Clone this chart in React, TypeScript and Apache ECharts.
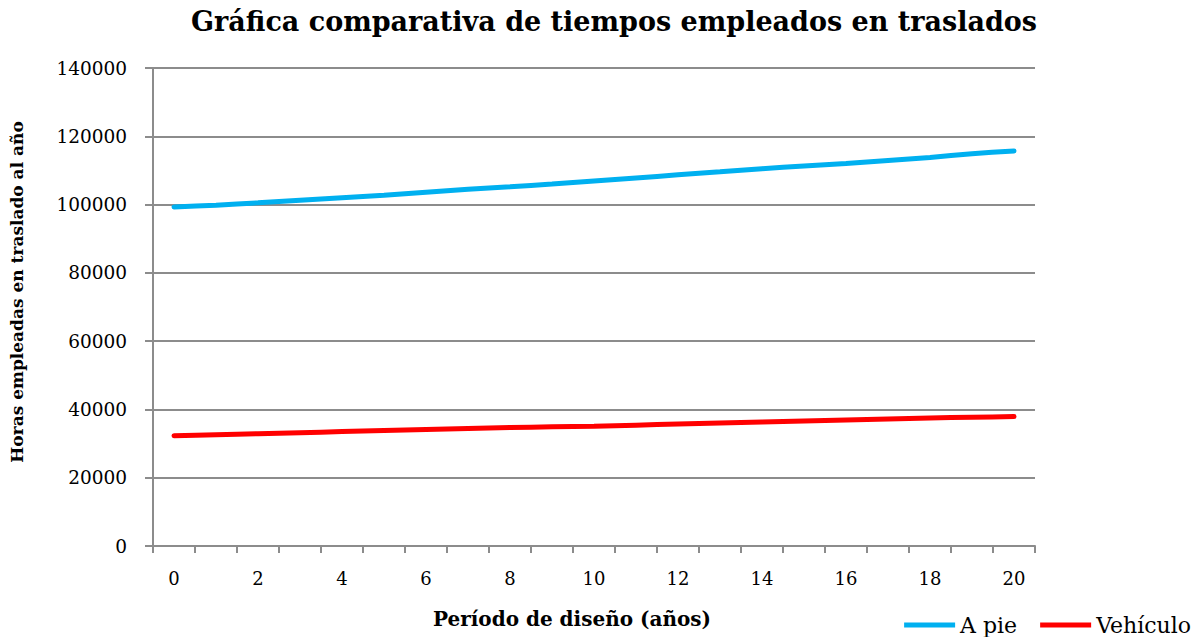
import React, { useEffect, useRef } from "react";
import * as echarts from "echarts";

const categories = ["0","1","2","3","4","5","6","7","8","9","10","11","12","13","14","15","16","17","18","19","20"];
const aPie = [99300, 99800, 100500, 101300, 102000, 102700, 103600, 104500, 105200, 106000, 106900, 107800, 108700, 109600, 110500, 111300, 112000, 112900, 113800, 114900, 115700];
const vehiculo = [32300, 32600, 32900, 33200, 33500, 33800, 34100, 34400, 34700, 34900, 35100, 35400, 35700, 36000, 36300, 36600, 36900, 37200, 37500, 37700, 37900];
const yTicks = { min: 0, max: 140000, interval: 20000 };

const FONT = "DejaVu Serif";

export default function App() {
  const ref = useRef<HTMLDivElement>(null);
  useEffect(() => {
    const chart = echarts.init(ref.current!, null, { renderer: "svg" });
    chart.setOption({
      animation: false,
      textStyle: { fontFamily: FONT, color: "#000" },
      title: {
        text: "Gráfica comparativa de tiempos empleados en traslados",
        left: 609,
        textAlign: "center",
        top: 3,
        textStyle: { fontFamily: FONT, fontSize: 27, fontWeight: "bold", color: "#000" },
      },
      legend: {
        right: 0,
        top: 609,
        itemWidth: 51,
        itemHeight: 5,
        itemGap: 23,
        icon: "rect",
        textStyle: { fontFamily: FONT, fontSize: 22, color: "#000" },
        data: ["A pie", "Vehículo"],
      },
      grid: { left: 152, right: 161, top: 68, bottom: 91 },
      xAxis: {
        type: "category",
        data: categories,
        boundaryGap: true,
        name: "Período de diseño (años)",
        nameLocation: "middle",
        nameGap: 63,
        nameTextStyle: { fontFamily: FONT, fontSize: 20, fontWeight: "bold", color: "#000", padding: [0, 44, 0, 0] },
        axisLine: { lineStyle: { color: "#8c8c8c", width: 2 } },
        axisTick: { show: true, interval: 0, length: 7, lineStyle: { color: "#8c8c8c", width: 2 } },
        axisLabel: { interval: 1, fontFamily: FONT, fontSize: 18, color: "#000", margin: 23 },
      },
      yAxis: {
        type: "value",
        min: yTicks.min,
        max: yTicks.max,
        interval: yTicks.interval,
        name: "Horas empleadas en traslado al año",
        nameLocation: "middle",
        nameGap: 128,
        nameTextStyle: { fontFamily: FONT, fontSize: 17, fontWeight: "bold", color: "#000", padding: [0, 0, 0, 30] },
        axisLine: { show: true, lineStyle: { color: "#8c8c8c", width: 2 } },
        axisTick: { show: true, length: 8, lineStyle: { color: "#8c8c8c", width: 2 } },
        axisLabel: { fontFamily: FONT, fontSize: 18.5, color: "#000", margin: 26, formatter: (v: number) => String(v) },
        splitLine: { lineStyle: { color: "#8c8c8c", width: 2 } },
      },
      series: [
        {
          name: "A pie",
          type: "line",
          data: aPie,
          symbol: "none",
          smooth: 0.2,
          itemStyle: { color: "#00B0F0" },
          lineStyle: { color: "#00B0F0", width: 5, cap: "round" },
        },
        {
          name: "Vehículo",
          type: "line",
          data: vehiculo,
          symbol: "none",
          smooth: 0.2,
          itemStyle: { color: "#FF0000" },
          lineStyle: { color: "#FF0000", width: 5, cap: "round" },
        },
      ],
    });
    return () => chart.dispose();
  }, []);
  return <div ref={ref} style={{ width: 1196, height: 637, position: "absolute", left: 0, top: 0 }} />;
}
